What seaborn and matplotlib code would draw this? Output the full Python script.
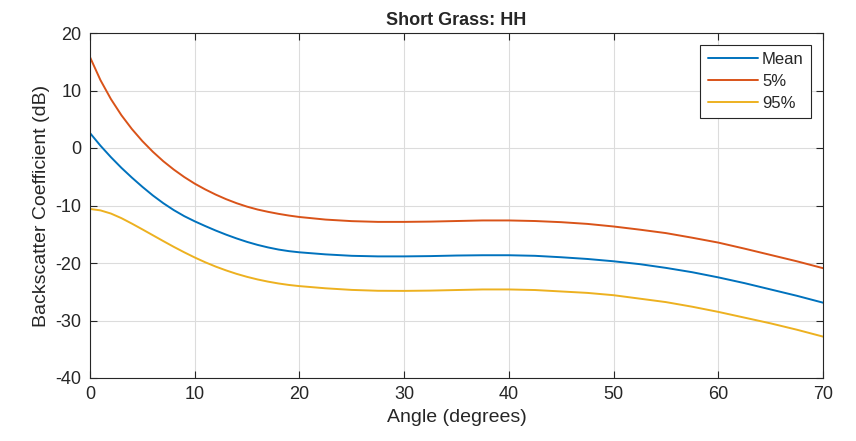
import numpy as np
import pandas as pd
import matplotlib
matplotlib.use('Agg')
import matplotlib.pyplot as plt
import seaborn as sns

# angles: every degree up to 20, then every 2.5 degrees
angle = [0, 1, 2, 3, 4, 5, 6, 7, 8, 9, 10, 11, 12, 13, 14, 15, 16, 17, 18, 19, 20,
         22.5, 25, 27.5, 30, 32.5, 35, 37.5, 40, 42.5, 45, 47.5, 50, 52.5, 55,
         57.5, 60, 62.5, 65, 67.5, 70]

mean_db = [2.6, 0.4, -1.6, -3.45, -5.15, -6.75, -8.25, -9.6, -10.8, -11.85, -12.75,
           -13.57, -14.35, -15.07, -15.73, -16.33, -16.85, -17.29, -17.66, -17.94, -18.14,
           -18.5, -18.75, -18.85, -18.85, -18.8, -18.7, -18.65, -18.65, -18.75, -19.0,
           -19.3, -19.7, -20.2, -20.85, -21.6, -22.5, -23.5, -24.6, -25.7, -26.9]

p5_db = [15.8, 11.8, 8.5, 5.7, 3.3, 1.2, -0.65, -2.3, -3.75, -5.05, -6.2,
         -7.2, -8.1, -8.9, -9.6, -10.2, -10.7, -11.1, -11.45, -11.75, -12.0,
         -12.45, -12.72, -12.85, -12.85, -12.8, -12.7, -12.6, -12.6, -12.7, -12.9,
         -13.2, -13.65, -14.2, -14.8, -15.6, -16.45, -17.5, -18.6, -19.7, -20.9]

p95_db = [-10.6, -10.85, -11.4, -12.2, -13.15, -14.15, -15.17, -16.19, -17.19, -18.14, -19.04,
          -19.87, -20.62, -21.29, -21.89, -22.41, -22.86, -23.24, -23.56, -23.82, -24.02,
          -24.4, -24.68, -24.83, -24.85, -24.8, -24.7, -24.6, -24.6, -24.7, -24.95,
          -25.2, -25.6, -26.2, -26.8, -27.6, -28.5, -29.5, -30.5, -31.6, -32.8]

series = ['Mean', '5%', '95%']
colors = ['#0072BD', '#D95319', '#EDB120']

df = pd.DataFrame({
    'angle': angle * 3,
    'value': mean_db + p5_db + p95_db,
    'series': [s for s in series for _ in angle],
})

sns.set_theme(style='ticks')
plt.rcParams['font.family'] = ['Liberation Sans', 'DejaVu Sans']
plt.rcParams['axes.unicode_minus'] = False

fig = plt.figure(figsize=(8.56, 4.41), dpi=100)
ax = fig.add_axes([90 / 856, 1 - 378 / 441, (823 - 90) / 856, (378 - 33) / 441])

sns.lineplot(data=df, x='angle', y='value', hue='series', hue_order=series,
             palette=colors, linewidth=1.4, ax=ax)

ax.set_xlim(0, 70)
ax.set_ylim(-40, 20)
ax.set_xticks(range(0, 71, 10))
ax.set_yticks(range(-40, 21, 10))
ax.grid(True, color='#dcdcdc', linewidth=0.8)
ax.tick_params(direction='in', length=5, width=0.8, colors='#262626',
               labelsize=13, top=True, right=True, pad=6)
for sp in ax.spines.values():
    sp.set_color('#262626')
    sp.set_linewidth(0.8)

ax.set_xlabel('Angle (degrees)', fontsize=14, color='#262626')
ax.set_ylabel('Backscatter Coefficient (dB)', fontsize=14, color='#262626')
ax.set_title('Short Grass: HH', fontsize=13, fontweight='bold', pad=6)

leg = ax.legend(loc='upper right', fontsize=12, fancybox=False, framealpha=1,
                edgecolor='#262626', borderaxespad=0.7, handlelength=3.0,
                handletextpad=0.25, labelspacing=0.4, borderpad=0.45)
leg.get_frame().set_linewidth(0.8)
leg.set_title(None)

fig.savefig('out.png', dpi=100)
